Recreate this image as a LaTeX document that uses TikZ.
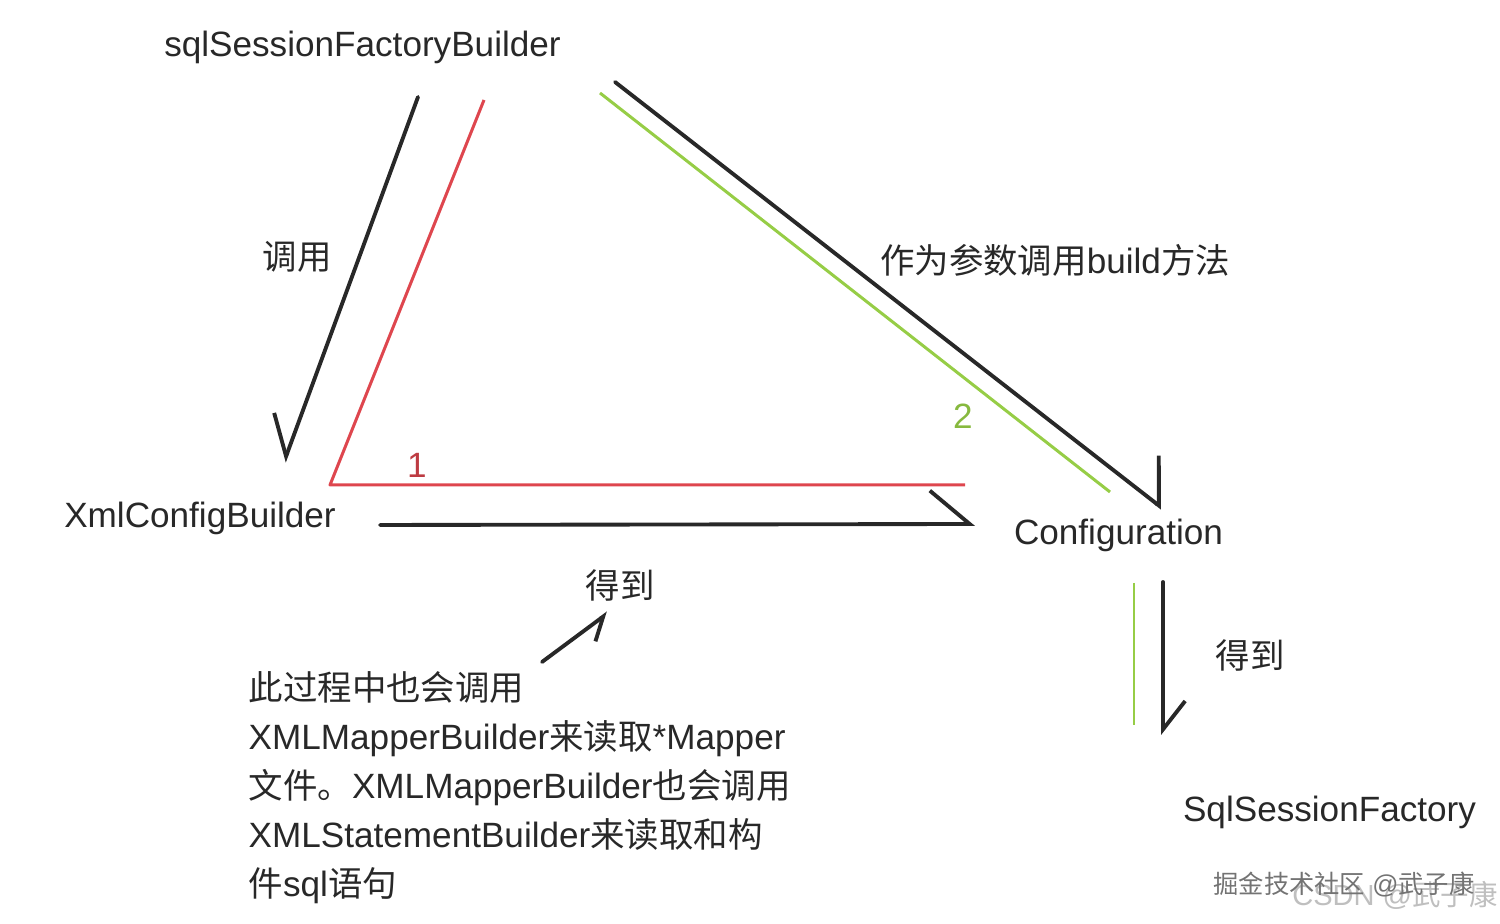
\documentclass[tikz,border=0pt]{standalone}
\usepackage{fontspec}
\setmainfont[Scale=1.02]{Liberation Sans}
\newfontfamily\cjk{Noto Sans CJK SC}
\usetikzlibrary{arrows.meta}
\definecolor{redline}{RGB}{222,70,78}
\definecolor{greenline}{RGB}{150,205,70}
\definecolor{inkgray}{RGB}{40,40,40}

\begin{document}
\begin{tikzpicture}[every node/.style={font=\fontsize{9.8}{13.9}\selectfont, text=inkgray},
  blk/.style={line width=1.1pt, line cap=round, inkgray},
  redl/.style={line width=0.85pt, redline, line join=round},
  grnl/.style={line width=0.85pt, greenline},
  hb/.style={-{Straight Barb[#1]}}]
\useasboundingbox (0,0) rectangle (15,9.24);
% names
\node[anchor=base] (sqlb) at (3.625,8.67) {sqlSessionFactoryBuilder};
\node[anchor=base] (xcb) at (2.00,3.96) {XmlConfigBuilder};
\node[anchor=base] (conf) at (11.185,3.79) {Configuration};
\node[anchor=base] (ssf) at (13.295,1.02) {SqlSessionFactory};
% labels
\node (call) at (2.97,6.67) {\cjk 调用};
\node (build) at (10.55,6.64) {{\cjk 作为参数调用}build{\cjk 方法}};
\node (get1) at (6.20,3.39) {\cjk 得到};
\node (get2) at (12.50,2.69) {\cjk 得到};
\node[text=redline!85!black] (one) at (4.17,4.59) {1};
\node[text=greenline!90!black] (two) at (9.63,5.08) {2};
\node[anchor=north west, inner sep=0pt, align=left] (note) at (2.48,2.53)
  {{\cjk 此过程中也会调用}\\
   XMLMapperBuilder{\cjk 来读取}*Mapper\\
   {\cjk 文件。}XMLMapperBuilder{\cjk 也会调用}\\
   XMLStatementBuilder{\cjk 来读取和构}\\
   {\cjk 件}sql{\cjk 语句}};
% watermark
\node[text=black!25, font=\fontsize{8.1}{10}\selectfont] (csdn) at (13.95,0.29) {CSDN @{\cjk 武子康}};
\node[text=black!55, font=\fontsize{7.2}{9}\selectfont] (juejin) at (13.44,0.39) {{\cjk 掘金技术社区} @{\cjk 武子康}};
% ends of the strokes
\coordinate (a1s) at (4.18,8.27);
\coordinate (a1e) at (2.84,4.62);
\coordinate (r1) at (4.84,8.24);
\coordinate (rc) at (3.30,4.39);
\coordinate (r2) at (9.65,4.39);
\coordinate (a2s) at (6.15,8.42);
\coordinate (a2e) at (11.62,4.16);
\coordinate (g1) at (6.00,8.31);
\coordinate (g2) at (11.10,4.32);
\coordinate (a3s) at (3.80,3.99);
\coordinate (a3e) at (9.75,4.00);
\coordinate (a4s) at (11.63,3.42);
\coordinate (a4e) at (11.63,1.89);
\coordinate (g3) at (11.34,3.41);
\coordinate (g4) at (11.34,1.99);
\coordinate (a5s) at (5.42,2.62);
\coordinate (a5e) at (6.08,3.11);
% strokes
\draw[blk, hb={right,angle=71:4.5mm}] (a1s) -- (a1e);
\draw[redl] (r1) -- (rc) -- (r2);
\draw[grnl] (g1) -- (g2);
\draw[blk, hb={left,angle=104:5mm}] (a2s) -- (a2e);
\draw[blk, hb={left,angle=80:5.2mm}] (a3s) -- (a3e);
\draw[grnl] (g3) -- (g4);
\draw[blk, hb={left,angle=76:3.6mm}] (a4s) -- (a4e);
\draw[blk, hb={right,angle=72:2.6mm}] (a5s) -- (a5e);
\end{tikzpicture}
\end{document}
